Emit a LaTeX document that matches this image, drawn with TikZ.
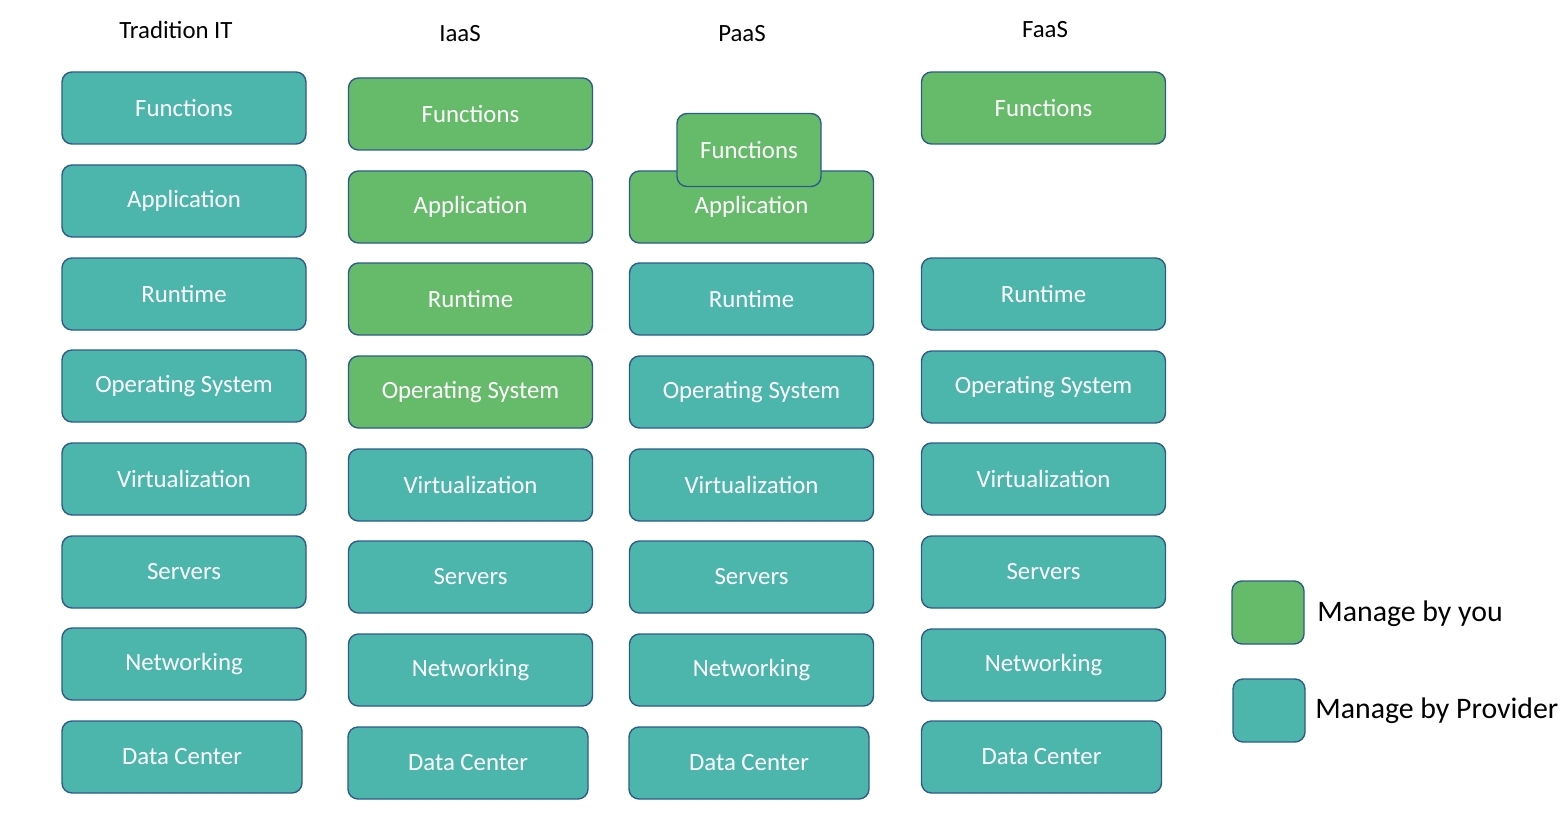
\documentclass[tikz,border=0pt]{standalone}
\usepackage{fontspec}
\setmainfont{Carlito}
\definecolor{provider}{HTML}{4DB6AC}
\definecolor{you}{HTML}{66BB6A}
\definecolor{edge}{HTML}{2E5C8A}
\begin{document}
\begin{tikzpicture}[x=0.5pt, y=-0.5pt,
	layer/.style={draw=edge, line width=0.7pt, shape=rectangle, rounded corners=5pt, minimum width=122pt, minimum height=36pt, inner sep=0, text=white, font=\fontsize{12.4}{14}\selectfont},
	title/.style={font=\fontsize{12.4}{14}\selectfont},
	legend/.style={font=\fontsize{14.9}{17}\selectfont, anchor=west, inner sep=0}]
			\useasboundingbox (0,0) rectangle (1564,824);
			% Tradition IT
			\node[title] (t-it) at (176,30){Tradition IT};
			\foreach \y/\L [count=\i] in {108/Functions,201/Application,294/Runtime,386/Operating System,479/Virtualization,572/Servers,664/Networking}
				{
					\node[layer, fill=provider] (it\i) at (184,\y){\L};
				}
				\node[layer, fill=provider, minimum width=120pt] (it8) at (182,757){Data Center};
			% IaaS
			\node[title] (t-iaas) at (460,34){IaaS};
			\foreach \y/\L [count=\i] in {114/Functions,207/Application,299/Runtime,392/Operating System}
				{
					\node[layer, fill=you] (iaas\i) at (470.5,\y){\L};
				}
			\foreach \y/\L [count=\i from 5] in {485/Virtualization,577/Servers,670/Networking}
				{
					\node[layer, fill=provider] (iaas\i) at (470.5,\y){\L};
				}
				\node[layer, fill=provider, minimum width=120pt] (iaas8) at (468,763){Data Center};
			% PaaS
			\node[title] (t-paas) at (742,34){PaaS};
				\node[layer, fill=you] (paas2) at (751.5,207){Application};
				\node[layer, fill=you, minimum width=72pt, minimum height=36.5pt] (paas1) at (749,150){Functions};
			\foreach \y/\L [count=\i from 3] in {299/Runtime,392/Operating System,485/Virtualization,577/Servers,670/Networking}
				{
					\node[layer, fill=provider] (paas\i) at (751.5,\y){\L};
				}
				\node[layer, fill=provider, minimum width=120pt] (paas8) at (749,763){Data Center};
			% FaaS
			\node[title] (t-faas) at (1045,30){FaaS};
				\node[layer, fill=you] (faas1) at (1043.5,108){Functions};
			\foreach \y/\L [count=\i from 3] in {294/Runtime,387/Operating System,479/Virtualization,572/Servers,665/Networking}
				{
					\node[layer, fill=provider] (faas\i) at (1043.5,\y){\L};
				}
				\node[layer, fill=provider, minimum width=120pt] (faas8) at (1041.5,757){Data Center};
			% legend
			\node[layer, fill=you, minimum width=36pt, minimum height=31.5pt] (key-you) at (1268,612.5){};
			\node[legend] (lbl-you) at (1317,614){Manage by you};
			\node[layer, fill=provider, minimum width=36pt, minimum height=31.5pt] (key-prov) at (1269,710.5){};
			\node[legend] (lbl-prov) at (1315,711){Manage by Provider};
		\end{tikzpicture}
\end{document}
